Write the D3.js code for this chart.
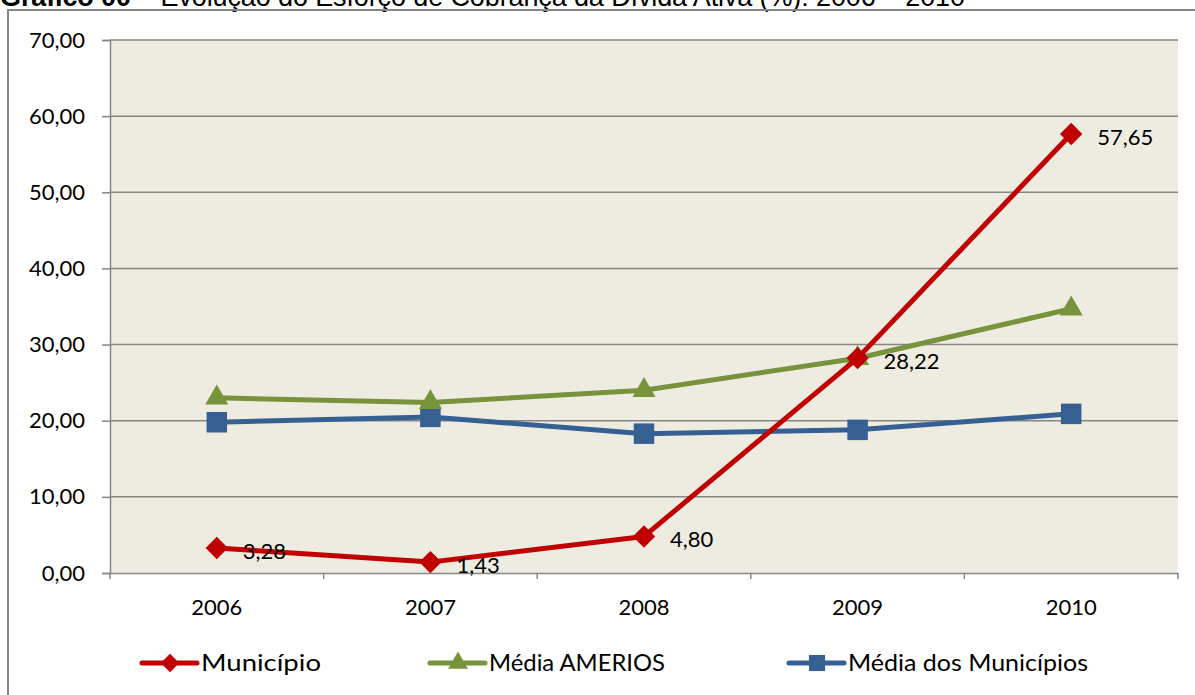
<!DOCTYPE html>
<html>
<head>
<meta charset="utf-8">
<script src="https://cdn.jsdelivr.net/npm/d3@7"></script>
<style>
  body { margin: 0; background: #fff; }
  text { font-family: Lato, "Open Sans", sans-serif; }
</style>
</head>
<body>
<div id="chart"></div>
<script>
var width = 1195,
    height = 695;

// data
var years = ["2006", "2007", "2008", "2009", "2010"];
var municipio = [3.28, 1.43, 4.80, 28.22, 57.65];
var ameriosMedia = [23.0, 22.4, 24.0, 28.2, 34.7];
var municipiosMedia = [19.8, 20.5, 18.3, 18.8, 20.9];
var yTicks = [0, 10, 20, 30, 40, 50, 60, 70];

// diamond = square turned 45 degrees, like the spreadsheet marker
var diamond = {
  draw: function(ctx, size) {
    var r = Math.sqrt(size / 2);
    ctx.moveTo(0, -r); ctx.lineTo(r, 0); ctx.lineTo(0, r); ctx.lineTo(-r, 0); ctx.closePath();
  }
};

var series = [
  {name: "Município", values: municipio, color: "#C00000", symbol: diamond, size: 250, lsize: 170, labels: true},
  {name: "Média AMERIOS", values: ameriosMedia, color: "#77933C", symbol: d3.symbolTriangle, size: 230, lsize: 170, labels: false},
  {name: "Média dos Municípios", values: municipiosMedia, color: "#376092", symbol: d3.symbolSquare, size: 420, lsize: 260, labels: false}
];

var plot = {left: 110, right: 1178, top: 40, bottom: 573};

var svg = d3.select("#chart")
  .append("svg")
    .attr("width", width)
    .attr("height", height);

// title, cut off by the top edge as in the source
var title = svg.append("text")
  .attr("x", 0)
  .attr("y", 6)
  .attr("textLength", 965)
  .style("font-family", "Arial, 'Liberation Sans', sans-serif")
  .style("font-size", "27px");
title.append("tspan").style("font-weight", "bold").text("Gráfico 00");
title.append("tspan").text(" – Evolução do Esforço de Cobrança da Dívida Ativa (%): 2006 – 2010");

// outer frame
svg.append("rect")
  .attr("x", 8).attr("y", 10)
  .attr("width", 1200).attr("height", 700)
  .attr("fill", "none")
  .attr("stroke", "#868686")
  .attr("stroke-width", 2);

var x = d3.scaleBand()
  .domain(years)
  .range([plot.left, plot.right]);

var y = d3.scaleLinear()
  .domain([0, 70])
  .range([plot.bottom, plot.top]);

// plot background
svg.append("rect")
  .attr("x", plot.left).attr("y", plot.top)
  .attr("width", plot.right - plot.left)
  .attr("height", plot.bottom - plot.top)
  .attr("fill", "#EEEBE0");

// gridlines
svg.append("g")
  .selectAll("line")
  .data(yTicks.filter(function(d) { return d > 0; }))
  .enter().append("line")
    .attr("x1", plot.left).attr("x2", plot.right)
    .attr("y1", function(d) { return y(d); })
    .attr("y2", function(d) { return y(d); })
    .attr("stroke", "#868686")
    .attr("stroke-width", 1.5);

var fmt = function(d) { return d3.format(".2f")(d).replace(".", ","); };

// y axis
var yAxis = svg.append("g")
  .attr("transform", "translate(" + plot.left + ",0)")
  .call(d3.axisLeft(y).tickValues(yTicks).tickFormat(fmt).tickSize(8).tickPadding(17));
yAxis.select(".domain").attr("stroke", "#868686").attr("stroke-width", 1.5);
yAxis.selectAll(".tick line").attr("stroke", "#868686").attr("stroke-width", 1.5);
yAxis.selectAll("text").style("font-size", "22px").attr("fill", "#000");

// x axis with ticks on category boundaries
var xAxis = svg.append("g")
  .attr("transform", "translate(0," + plot.bottom + ")")
  .call(d3.axisBottom(x).tickSize(0).tickPadding(26));
xAxis.select(".domain").attr("stroke", "#868686").attr("stroke-width", 1.5);
xAxis.selectAll("text").style("font-size", "22px").attr("fill", "#000");
xAxis.selectAll(".bound")
  .data(years.concat(["end"]))
  .enter().append("line")
    .attr("x1", function(d, i) { return i < years.length ? x(d) : x(years[years.length - 1]) + x.bandwidth(); })
    .attr("x2", function(d, i) { return i < years.length ? x(d) : x(years[years.length - 1]) + x.bandwidth(); })
    .attr("y1", 0).attr("y2", 6)
    .attr("stroke", "#868686")
    .attr("stroke-width", 1.5);

var cx = function(i) { return x(years[i]) + x.bandwidth() / 2; };

var line = d3.line()
  .x(function(d, i) { return cx(i); })
  .y(function(d) { return y(d); });

// draw series in reverse so the red line sits on top
series.slice().reverse().forEach(function(s) {
  var g = svg.append("g");
  g.append("path")
    .datum(s.values)
    .attr("d", line)
    .attr("fill", "none")
    .attr("stroke", s.color)
    .attr("stroke-width", 5)
    .attr("stroke-linejoin", "round");
  g.selectAll("path.mk")
    .data(s.values)
    .enter().append("path")
      .attr("class", "mk")
      .attr("transform", function(d, i) { return "translate(" + cx(i) + "," + y(d) + ")"; })
      .attr("d", d3.symbol().type(s.symbol).size(s.size))
      .attr("fill", s.color);
  if (s.labels) {
    g.selectAll("text")
      .data(s.values)
      .enter().append("text")
        .attr("x", function(d, i) { return cx(i) + 26; })
        .attr("y", function(d) { return y(d) + 3; })
        .attr("dy", "0.35em")
        .style("font-size", "22px")
        .text(fmt);
  }
});

// legend
var legendX = [142, 430, 789];
var legendW = [120, 176, 240];
var legend = svg.append("g")
  .selectAll("g")
  .data(series)
  .enter().append("g")
    .attr("transform", function(d, i) { return "translate(" + legendX[i] + ",663)"; });
legend.append("line")
  .attr("x1", 0).attr("x2", 55)
  .attr("stroke", function(d) { return d.color; })
  .attr("stroke-width", 5)
  .attr("stroke-linecap", "round");
legend.append("path")
  .attr("transform", "translate(28,0)")
  .attr("d", function(d) { return d3.symbol().type(d.symbol).size(d.lsize)(); })
  .attr("fill", function(d) { return d.color; });
legend.append("text")
  .attr("x", 59)
  .attr("dy", "0.35em")
  .attr("textLength", function(d, i) { return legendW[i]; })
  .attr("lengthAdjust", "spacingAndGlyphs")
  .style("font-size", "23px")
  .text(function(d) { return d.name; });
</script>
</body>
</html>
